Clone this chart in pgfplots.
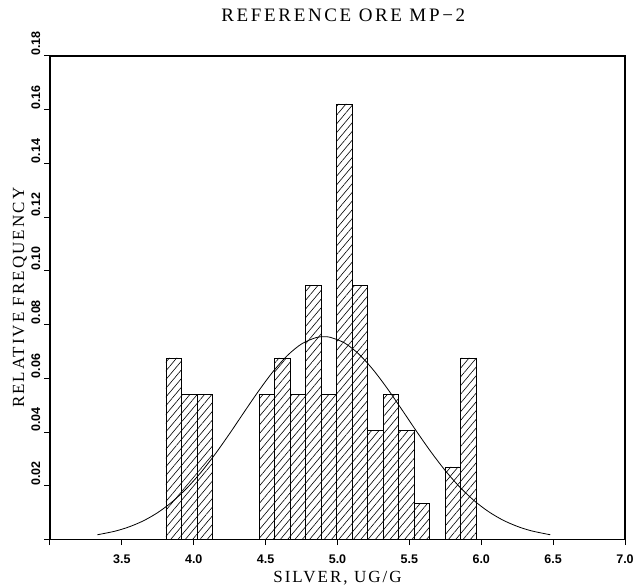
\documentclass[border=0pt]{standalone}
\usepackage{pgfplots}
\pgfplotsset{compat=1.18}
\usepackage{fontspec}
\setmainfont{Liberation Serif}
\newfontfamily\tickfont{Liberation Sans}
\newfontfamily\labfont[LetterSpace=12]{Liberation Serif}
\newfontfamily\titlefont[LetterSpace=14]{Liberation Serif}
\usetikzlibrary{patterns.meta}
\begin{document}
\begin{tikzpicture}
\begin{axis}[
  scale only axis, width=575pt, height=483.5pt,
  xmin=3, xmax=7, ymin=0, ymax=0.18,
  axis line style={line width=1.6pt},
  xtick={3,3.5,4,4.5,5,5.5,6,6.5,7},
  xticklabels={,3.5,4.0,4.5,5.0,5.5,6.0,6.5,7.0},
  ytick={0,0.02,0.04,0.06,0.08,0.1,0.12,0.14,0.16,0.18},
  yticklabels={,0.02,0.04,0.06,0.08,0.10,0.12,0.14,0.16,0.18},
  scaled y ticks=false,
  tick align=outside, tick pos=left, major tick length=5.5pt,
  every tick/.style={black, line width=1pt},
  tick label style={font=\tickfont\bfseries\fontsize{12.5}{14}\selectfont},
  xticklabel style={anchor=north, inner sep=0pt, yshift=-9.5pt},
  yticklabel style={xshift=-4pt, yshift=0pt, anchor=south west, inner sep=0pt, rotate=90},
  title={\titlefont\fontsize{19}{21}\selectfont REFERENCE ORE MP\textminus 2},
  title style={at={(axis description cs:0.51,1.058)}, anchor=base},
  xlabel={\labfont\fontsize{17}{19}\selectfont SILVER, UG/G},
  xlabel style={at={(axis description cs:0.5,-0.0888)}, anchor=base},
  ylabel={\labfont\fontsize{17}{19}\selectfont RELATIVE FREQUENCY},
  ylabel style={at={(axis description cs:-0.045,0.5)}, anchor=base},
]
\addplot[ybar interval, draw=black, line width=0.7pt,
  pattern={Lines[angle=50,distance=5.6pt,line width=0.6pt]}] coordinates {
(3.806,0.06757) (3.914,0.05405) (4.022,0.05405) (4.130,0) (4.238,0) (4.346,0)
(4.454,0.05405) (4.562,0.06757) (4.670,0.05405) (4.778,0.09459) (4.886,0.05405)
(4.994,0.16216) (5.102,0.09459) (5.210,0.04054) (5.318,0.05405) (5.426,0.04054)
(5.534,0.01351) (5.642,0) (5.750,0.02703) (5.858,0.06757) (5.966,0)
};
\addplot[smooth, line width=0.8pt, black] coordinates {
(3.33,0.00177) (3.45,0.00307) (3.55,0.00470) (3.65,0.00697) (3.75,0.01004)
(3.85,0.01403) (3.95,0.01901) (4.05,0.02499) (4.15,0.03188) (4.25,0.03946)
(4.35,0.04739) (4.45,0.05520) (4.55,0.06240) (4.65,0.06843) (4.75,0.07281)
(4.85,0.07516) (4.905,0.0755) (4.95,0.07527) (5.05,0.07314) (5.15,0.06895)
(5.25,0.06306) (5.35,0.05596) (5.45,0.04818) (5.55,0.04025) (5.65,0.03262)
(5.75,0.02564) (5.85,0.01956) (5.95,0.01448) (6.05,0.01040) (6.15,0.00724)
(6.25,0.00490) (6.35,0.00321) (6.48,0.00177)
};
\end{axis}
\pgfresetboundingbox
\path[use as bounding box] ([xshift=-50pt,yshift=-46.5pt]current axis.south west) rectangle ++(642pt,586pt);
\end{tikzpicture}
\end{document}
